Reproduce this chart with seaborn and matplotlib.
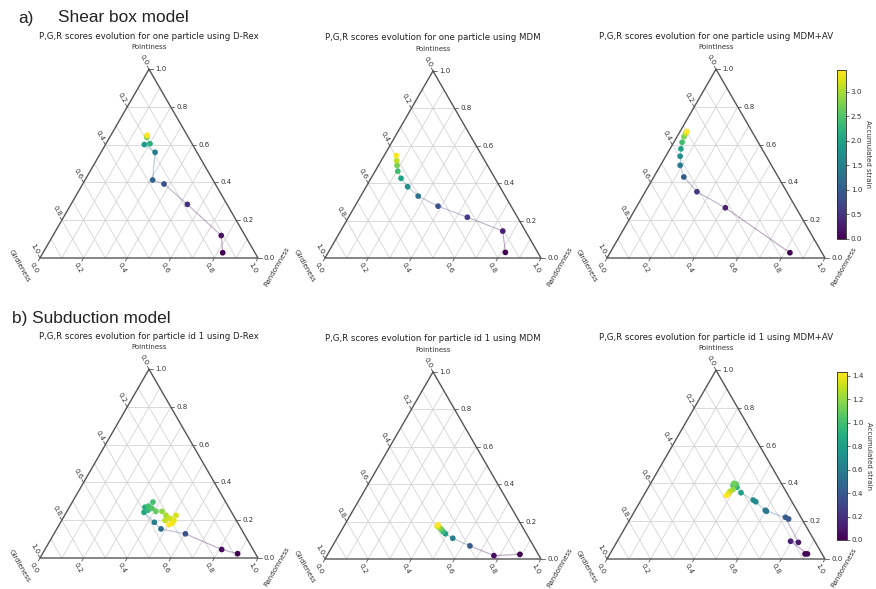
import numpy as np
import pandas as pd
import matplotlib
matplotlib.use("Agg")
import matplotlib.pyplot as plt
import seaborn as sns
from matplotlib.colors import Normalize
from matplotlib.cm import ScalarMappable

# ---------------- data (Pointiness, Girdleness, Randomness, accumulated strain) ----------------
a1_P = [0.028, 0.119, 0.284, 0.392, 0.413, 0.560, 0.601, 0.605, 0.640, 0.646, 0.650]
a1_G = [0.148, 0.109, 0.182, 0.235, 0.277, 0.192, 0.221, 0.193, 0.190, 0.186, 0.183]
a1_R = [0.824, 0.772, 0.534, 0.373, 0.310, 0.248, 0.178, 0.202, 0.170, 0.168, 0.167]
a1_S = [0.0, 0.15, 0.5, 0.8, 1.1, 1.5, 1.85, 2.2, 2.6, 3.0, 3.44]

a2_P = [0.030, 0.144, 0.218, 0.277, 0.331, 0.381, 0.426, 0.464, 0.495, 0.521, 0.548]
a2_G = [0.150, 0.105, 0.232, 0.338, 0.403, 0.427, 0.435, 0.431, 0.419, 0.408, 0.396]
a2_R = [0.820, 0.751, 0.550, 0.385, 0.266, 0.192, 0.139, 0.105, 0.086, 0.071, 0.056]
a2_S = [0.0, 0.3, 0.6, 0.9, 1.3, 1.7, 2.0, 2.4, 2.75, 3.1, 3.44]

a3_P = [0.028, 0.266, 0.351, 0.429, 0.491, 0.539, 0.578, 0.613, 0.642, 0.660, 0.670]
a3_G = [0.147, 0.324, 0.412, 0.433, 0.419, 0.395, 0.372, 0.349, 0.326, 0.309, 0.298]
a3_R = [0.825, 0.410, 0.237, 0.138, 0.090, 0.066, 0.050, 0.038, 0.032, 0.031, 0.032]
a3_S = [0.0, 0.3, 0.6, 1.0, 1.4, 1.7, 2.0, 2.4, 2.75, 3.1, 3.44]

b1_P = [0.023, 0.045, 0.128, 0.154, 0.189, 0.242, 0.269, 0.253, 0.296, 0.263, 0.247, 0.275,
        0.247, 0.226, 0.199, 0.210, 0.226, 0.199, 0.183, 0.177]
b1_G = [0.082, 0.144, 0.269, 0.368, 0.381, 0.402, 0.384, 0.378, 0.334, 0.355, 0.345, 0.365,
        0.317, 0.309, 0.327, 0.299, 0.263, 0.286, 0.303, 0.320]
b1_R = [0.895, 0.811, 0.603, 0.478, 0.430, 0.356, 0.347, 0.369, 0.370, 0.382, 0.408, 0.360,
        0.436, 0.465, 0.474, 0.491, 0.511, 0.515, 0.514, 0.503]
b1_S = [0.0, 0.05, 0.35, 0.5, 0.6, 0.85, 0.9, 0.95, 1.0, 1.05, 1.1, 1.0,
        1.2, 1.25, 1.3, 1.32, 1.35, 1.38, 1.4, 1.43]

b2_P = [0.025, 0.018, 0.070, 0.111, 0.135, 0.147, 0.158, 0.166, 0.171, 0.176, 0.182]
b2_G = [0.085, 0.209, 0.294, 0.353, 0.375, 0.380, 0.382, 0.385, 0.389, 0.393, 0.386]
b2_R = [0.890, 0.773, 0.636, 0.536, 0.490, 0.473, 0.460, 0.449, 0.440, 0.431, 0.432]
b2_S = [0.0, 0.05, 0.4, 0.6, 0.8, 0.95, 1.05, 1.15, 1.25, 1.35, 1.43]

b3_P = [0.027, 0.027, 0.094, 0.088, 0.221, 0.212, 0.258, 0.253, 0.312, 0.303, 0.351,
        0.380, 0.385, 0.390, 0.396, 0.401, 0.369, 0.358, 0.345, 0.337]
b3_G = [0.078, 0.067, 0.111, 0.078, 0.071, 0.061, 0.145, 0.142, 0.173, 0.166, 0.210,
        0.214, 0.221, 0.227, 0.210, 0.217, 0.237, 0.257, 0.272, 0.283]
b3_R = [0.895, 0.906, 0.795, 0.834, 0.708, 0.727, 0.597, 0.605, 0.515, 0.531, 0.439,
        0.406, 0.394, 0.383, 0.394, 0.382, 0.394, 0.385, 0.383, 0.380]
b3_S = [0.0, 0.02, 0.13, 0.1, 0.42, 0.4, 0.55, 0.57, 0.7, 0.68, 0.82,
        0.92, 0.97, 1.02, 1.07, 1.12, 1.2, 1.28, 1.36, 1.43]

titles_a = ["P,G,R scores evolution for one particle using D-Rex",
            "P,G,R scores evolution for one particle using MDM",
            "P,G,R scores evolution for one particle using MDM+AV"]
titles_b = ["P,G,R scores evolution for particle id 1 using D-Rex",
            "P,G,R scores evolution for particle id 1 using MDM",
            "P,G,R scores evolution for particle id 1 using MDM+AV"]
tick_values = [0.0, 0.2, 0.4, 0.6, 0.8, 1.0]
cbar_ticks_a = [0.0, 0.5, 1.0, 1.5, 2.0, 2.5, 3.0]
cbar_ticks_b = [0.0, 0.2, 0.4, 0.6, 0.8, 1.0, 1.2, 1.4]
vmax_a = 3.44
vmax_b = 1.43

# ---------------- figure setup ----------------
sns.set_theme(style="white")
plt.rcParams['font.family'] = ['DejaVu Sans']

FW, FH = 876, 589
fig = plt.figure(figsize=(FW / 100, FH / 100), dpi=100)
S3 = np.sqrt(3) / 2
GRID = "#d4d4d4"
EDGE = "#555555"
TXT = "#333333"
cmap = plt.get_cmap("viridis")


def to_xy(P, R):
    P = np.asarray(P, dtype=float)
    R = np.asarray(R, dtype=float)
    return R + 0.5 * P, S3 * P


def make_ax(bx, by, W, m=0.16):
    left = (bx - m * W) / FW
    width = (1 + 2 * m) * W / FW
    bottom = 1 - (by + m * W) / FH
    height = (S3 + 2 * m) * W / FH
    ax = fig.add_axes([left, bottom, width, height])
    return ax, m


def draw_frame(ax, W, title):
    px = 1.0 / W
    for t in [0.2, 0.4, 0.6, 0.8]:
        ax.plot(*to_xy([t, t], [0, 1 - t]), color=GRID, lw=0.6, zorder=1)
    for v in np.arange(1, 10) / 10:
        ax.plot(*to_xy([0, 1 - v], [v, v]), color=GRID, lw=0.6, zorder=1)
        ax.plot(*to_xy([1 - v, 0], [0, 1 - v]), color=GRID, lw=0.6, zorder=1)
    ax.plot(*to_xy([1, 0, 0, 1], [0, 0, 1, 0]), color=EDGE, lw=1.0, zorder=2,
            solid_joinstyle="miter")
    fs = 5.0
    d_up = np.array([-0.5, S3])
    d_dn = np.array([-0.5, -S3])
    for v in tick_values:
        # right edge: Pointiness
        x, y = to_xy(v, 1 - v)
        ax.plot([x, x + 3.5 * px], [y, y], color=EDGE, lw=0.6)
        ax.text(x + 6 * px, y, f"{v:.1f}", fontsize=fs, ha="left", va="center", color=TXT)
        # bottom edge: Randomness
        x, y = to_xy(0, v)
        ax.plot([x, x + d_dn[0] * 3.5 * px], [y, y + d_dn[1] * 3.5 * px], color=EDGE, lw=0.6)
        ax.text(x + d_dn[0] * 11 * px, y + d_dn[1] * 11 * px, f"{v:.1f}", fontsize=fs,
                ha="center", va="center", rotation=-60, color=TXT)
        # left edge: Girdleness
        x, y = to_xy(1 - v, 0)
        ax.plot([x, x + d_up[0] * 3.5 * px], [y, y + d_up[1] * 3.5 * px], color=EDGE, lw=0.6)
        ax.text(x + d_up[0] * 10.5 * px, y + d_up[1] * 10.5 * px, f"{v:.1f}", fontsize=fs,
                ha="center", va="center", rotation=-60, color=TXT)
    ax.text(0.5, S3 + 22 * px, "Pointiness", fontsize=fs, ha="center", va="center", color=TXT)
    ax.text(-20 * px, -8 * px, "Girdleness", fontsize=fs, ha="center", va="center",
            rotation=-60, color=TXT)
    ax.text(1 + 19 * px, -9 * px, "Randomness", fontsize=fs, ha="center", va="center",
            rotation=60, color=TXT)
    ax.text(0.5, S3 + 33 * px, title, fontsize=6.2, ha="center", va="center", color="#222222")


def draw_path(ax, P, R, S, vmax, m):
    x, y = to_xy(P, R)
    norm = Normalize(0, vmax)
    for i in range(len(x) - 1):
        ax.plot(x[i:i + 2], y[i:i + 2], color=cmap(norm(S[i])), alpha=0.35, lw=0.8, zorder=3)
    df = pd.DataFrame({"x": x, "y": y, "strain": S})
    sns.scatterplot(data=df, x="x", y="y", hue="strain", palette="viridis",
                    hue_norm=(0, vmax), s=17, linewidth=0, legend=False, ax=ax, zorder=4)
    ax.set_xlim(-m, 1 + m)
    ax.set_ylim(-m, S3 + m)
    ax.axis("off")


panels = [
    (40, 258, 218, a1_P, a1_R, a1_S, vmax_a, titles_a[0]),
    (325, 258, 216, a2_P, a2_R, a2_S, vmax_a, titles_a[1]),
    (607, 258, 218, a3_P, a3_R, a3_S, vmax_a, titles_a[2]),
    (40, 558, 218, b1_P, b1_R, b1_S, vmax_b, titles_b[0]),
    (325, 559, 216, b2_P, b2_R, b2_S, vmax_b, titles_b[1]),
    (607, 559, 218, b3_P, b3_R, b3_S, vmax_b, titles_b[2]),
]
for bx, by, W, P, R, S, vmax, title in panels:
    ax, m = make_ax(bx, by, W)
    draw_frame(ax, W, title)
    draw_path(ax, P, R, S, vmax, m)


def add_cbar(x0, x1, ytop, ybot, vmax, ticks):
    cax = fig.add_axes([x0 / FW, 1 - ybot / FH, (x1 - x0) / FW, (ybot - ytop) / FH])
    cb = fig.colorbar(ScalarMappable(norm=Normalize(0, vmax), cmap=cmap), cax=cax)
    cb.set_ticks(ticks)
    cb.set_ticklabels([f"{t:.1f}" for t in ticks])
    cb.ax.tick_params(labelsize=5.2, length=2, width=0.5, pad=1.5, colors=TXT)
    cb.outline.set_linewidth(0.6)
    cb.set_label("Accumulated strain", rotation=270, fontsize=5.0, labelpad=6, color=TXT)


add_cbar(837, 846, 70, 239, vmax_a, cbar_ticks_a)
add_cbar(837, 847, 372, 540, vmax_b, cbar_ticks_b)

head = dict(fontsize=12.4, family=["Liberation Sans", "DejaVu Sans"], va="center", color="#222222")
fig.text(18 / FW, 1 - 18 / FH, "a)", **head)
fig.text(58 / FW, 1 - 18 / FH, "Shear box model", **head)
fig.text(12 / FW, 1 - 318 / FH, "b) Subduction model", **head)

fig.savefig("out.png", dpi=100, facecolor="white")
